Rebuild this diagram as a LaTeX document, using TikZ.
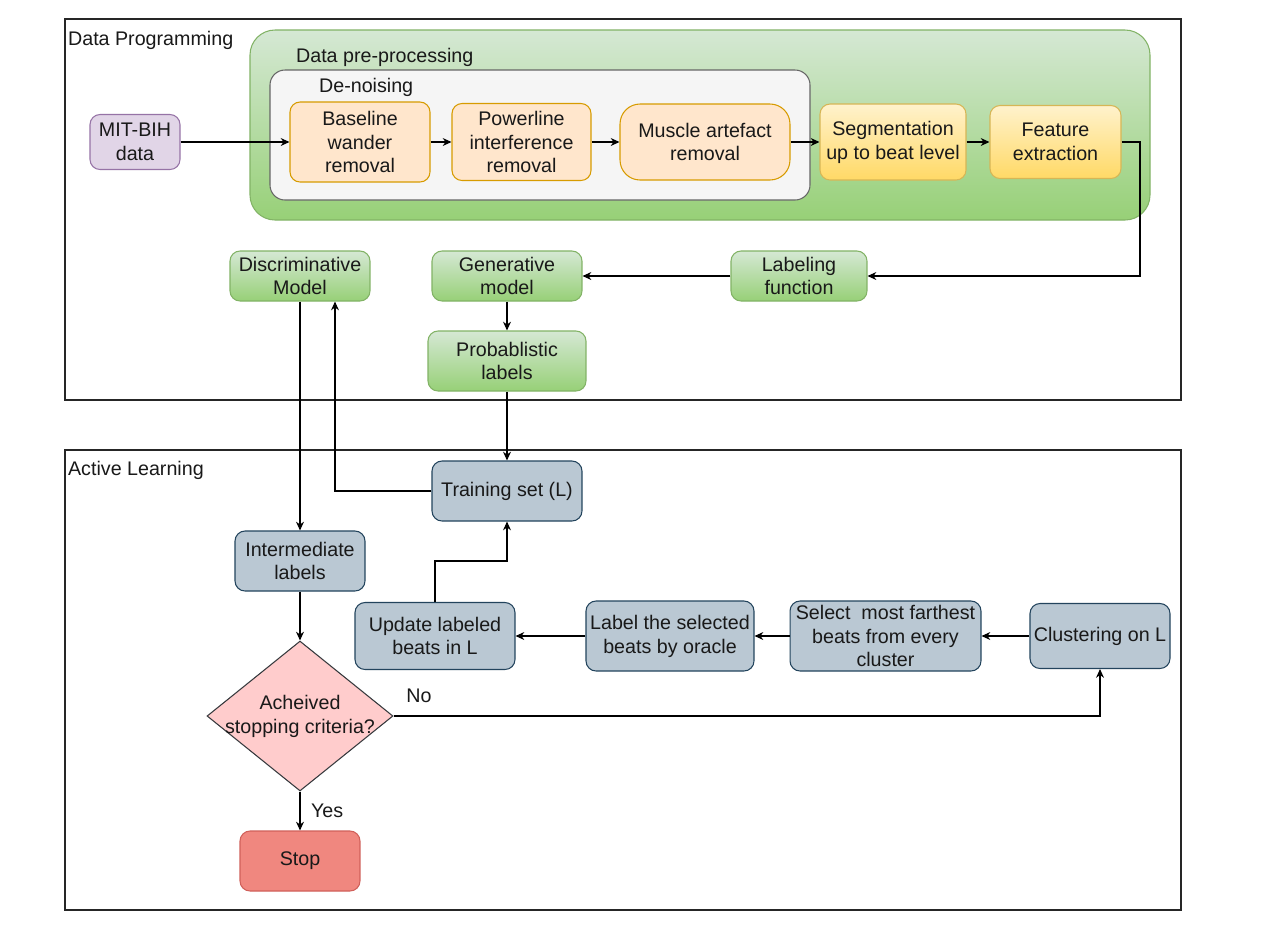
\documentclass[tikz,border=0pt]{standalone}
\usepackage{fontspec}
\setmainfont{Liberation Sans}
\usetikzlibrary{arrows.meta,shapes.geometric}

\definecolor{moradoF}{HTML}{E1D5E7}
\definecolor{moradoB}{HTML}{9673A6}
\definecolor{naranjaF}{HTML}{FFE6CC}
\definecolor{naranjaB}{HTML}{D79B00}
\definecolor{amarilloA}{HTML}{FFF2CC}
\definecolor{amarilloB}{HTML}{FFD966}
\definecolor{amarilloL}{HTML}{D6B656}
\definecolor{verdeA}{HTML}{D5E8D4}
\definecolor{verdeB}{HTML}{97D077}
\definecolor{verdeL}{HTML}{82B366}
\definecolor{grisF}{HTML}{F5F5F5}
\definecolor{grisB}{HTML}{666666}
\definecolor{azulF}{HTML}{BAC8D3}
\definecolor{azulB}{HTML}{23445D}
\definecolor{rosaF}{HTML}{FFCCCC}
\definecolor{rosaB}{HTML}{36393D}
\definecolor{rojoF}{HTML}{F0877F}
\definecolor{rojoB}{HTML}{D0605A}

\begin{document}
\begin{tikzpicture}
  [x=0.02cm,y=-0.02cm,
   every node/.style={font=\fontsize{11.2}{13.6}\selectfont,align=center,text=black!90,inner sep=1pt},
   caja/.style={rectangle,rounded corners=0.2cm,draw,line width=0.6pt},
   morado/.style={caja,fill=moradoF,draw=moradoB},
   naranja/.style={caja,fill=naranjaF,draw=naranjaB},
   amarillo/.style={caja,top color=amarilloA,bottom color=amarilloB,draw=amarilloL},
   verde/.style={caja,top color=verdeA,bottom color=verdeB,draw=verdeL},
   azul/.style={caja,fill=azulF,draw=azulB},
   marco/.style={draw=black!85,line width=1.2pt},
   flecha/.style={draw=black,line width=0.6pt,-{Stealth[length=5pt,width=4.5pt]}}]

  \fill[white] (0,0) rectangle (1261,941);
  \useasboundingbox (0,0) rectangle (1261,941);

  % Marcos exteriores
  \draw[marco] (65,19) rectangle (1181,400);
  \draw[marco] (65,450) rectangle (1181,910);
  \node[anchor=west] (tdp) at (66,40) {Data Programming};
  \node[anchor=west] (tal) at (66,470) {Active Learning};

  % Contenedores del preprocesado
  \draw[rounded corners=0.5cm,draw=verdeL,line width=0.6pt,top color=verdeA,bottom color=verdeB]
    (250,30) rectangle (1150,220);
  \node[anchor=west] (tpre) at (294,57) {Data pre-processing};
  \draw[rounded corners=0.3cm,draw=grisB,line width=0.6pt,fill=grisF]
    (270,70) rectangle (810,200);
  \node[anchor=west] (tden) at (317,87) {De-noising};

  % Fila superior
  \node[morado,minimum width=1.8cm,minimum height=1.1cm] (mit) at (135,142) {MIT-BIH\\data};
  \node[naranja,minimum width=2.8cm,minimum height=1.6cm] (base) at (360,142) {Baseline\\wander\\removal};
  \node[naranja,minimum width=2.78cm,minimum height=1.54cm] (power) at (521.5,142) {Powerline\\interference\\removal};
  \node[naranja,rounded corners=0.4cm,minimum width=3.4cm,minimum height=1.52cm] (muscle) at (705,142) {Muscle artefact\\removal};
  \node[amarillo,minimum width=2.92cm,minimum height=1.52cm] (seg) at (893,142) {Segmentation\\up to beat level};
  \node[amarillo,minimum width=2.62cm,minimum height=1.46cm] (feat) at (1055.5,142) {Feature\\extraction};

  % Modelos
  \node[verde,minimum width=2.72cm,minimum height=1cm] (labfun) at (799,276) {Labeling\\function};
  \node[verde,minimum width=3cm,minimum height=1cm] (gen) at (507,276) {Generative\\model};
  \node[verde,minimum width=2.8cm,minimum height=1cm] (disc) at (300,276) {Discriminative\\Model};
  \node[verde,minimum width=3.16cm,minimum height=1.2cm] (prob) at (507,361) {Probablistic\\labels};

  % Aprendizaje activo
  \node[azul,minimum width=3cm,minimum height=1.2cm] (train) at (507,491) {Training set (L)};
  \node[azul,minimum width=2.6cm,minimum height=1.2cm] (inter) at (300,561) {Intermediate\\labels};
  \node[azul,minimum width=3.2cm,minimum height=1.34cm] (update) at (435,636) {Update labeled\\beats in L};
  \node[azul,minimum width=3.36cm,minimum height=1.4cm] (oracle) at (670,636) {Label the selected\\beats by oracle};
  \node[azul,minimum width=3.82cm,minimum height=1.4cm] (select) at (885.5,636) {Select\ \ most farthest\\beats from every\\cluster};
  \node[azul,minimum width=2.8cm,minimum height=1.3cm] (clust) at (1100,636) {Clustering on L};
  \node[diamond,draw=rosaB,fill=rosaF,line width=0.6pt,inner sep=0pt,minimum width=3.72cm,minimum height=3cm,
        label={[align=center]center:Acheived\\stopping criteria?}] (decide) at (300,716) {};
  \node[caja,fill=rojoF,draw=rojoB,minimum width=2.4cm,minimum height=1.2cm] (stop) at (300,861) {Stop};

  % Conexiones del preprocesado
  \draw[flecha] (mit) -- (base);
  \draw[flecha] (base) -- (power);
  \draw[flecha] (power) -- (muscle);
  \draw[flecha] (muscle) -- (seg);
  \draw[flecha] (seg) -- (feat);
  \coordinate (giro) at (1140,142);
  \draw[flecha] (feat.east) -- (giro) |- (labfun.east);

  % Conexiones de los modelos
  \draw[flecha] (labfun) -- (gen);
  \draw[flecha] (gen) -- (prob);
  \draw[flecha] (prob) -- (train);
  \draw[flecha] (train.west) -| ([xshift=0.7cm]disc.south);
  \draw[flecha] (disc) -- (inter);
  \draw[flecha] (inter) -- (decide);

  % Bucle de aprendizaje activo
  \draw[flecha] (decide) -- node[right=5pt,pos=0.5] (yes) {Yes} (stop);
  \draw[flecha] (decide.east) -| node[pos=0.018,above=6pt] (no) {No} (clust.south);
  \draw[flecha] (clust) -- (select);
  \draw[flecha] (select) -- (oracle);
  \draw[flecha] (oracle) -- (update);
  \draw[flecha] (update.north) -- ++(0,-41) -| (train.south);

\end{tikzpicture}
\end{document}
